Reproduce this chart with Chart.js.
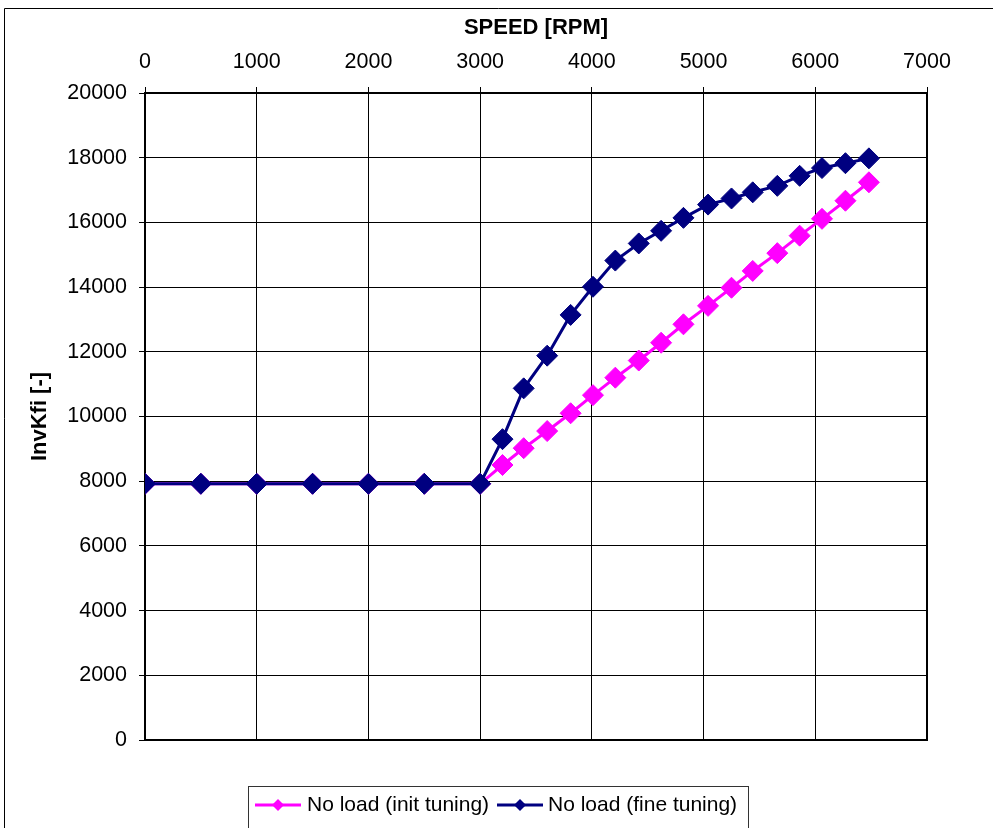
<!DOCTYPE html>
<html>
<head>
<meta charset="utf-8">
<title>InvKfi vs speed</title>
<script src="https://cdn.jsdelivr.net/npm/chart.js@4/dist/chart.umd.min.js"></script>
<style>
  html, body { margin: 0; padding: 0; background: #fff; }
  canvas { display: block; }
</style>
</head>
<body>
<canvas id="myChart" width="993" height="828"></canvas>
<script>
'use strict';

// Datos
const speed = [0, 500, 1000, 1500, 2000, 2500, 3000, 3200, 3390, 3600, 3810, 4010, 4210, 4420, 4620, 4820, 5040, 5250, 5440, 5660, 5860, 6060, 6270, 6480];
const initTuning = [7920, 7920, 7920, 7920, 7920, 7920, 7920, 8500, 9020, 9550, 10100, 10660, 11200, 11730, 12280, 12850, 13420, 13980, 14500, 15050, 15590, 16110, 16670, 17240];
const fineTuning = [7920, 7920, 7920, 7920, 7920, 7920, 7920, 9300, 10870, 11880, 13140, 14010, 14820, 15350, 15740, 16140, 16550, 16740, 16930, 17130, 17440, 17680, 17830, 17980];
const seriesNames = ['No load (init tuning)', 'No load (fine tuning)'];
const seriesColors = ['#ff00ff', '#000080'];
const xTicks = [0, 7000, 1000];
const yTicks = [0, 20000, 2000];

const FONT = '"Liberation Sans", Arial, sans-serif';
const canvas = document.getElementById('myChart');

const toPoints = (xs, ys) => xs.map((x, i) => ({ x: x, y: ys[i] }));

// Marco exterior, borde del área y leyenda
const framePlugin = {
  id: 'frame',
  beforeDatasetsDraw(chart) {
    const { ctx, chartArea } = chart;
    ctx.save();
    ctx.strokeStyle = '#000';
    ctx.lineWidth = 1;
    ctx.beginPath();
    ctx.moveTo(4.5, 828);
    ctx.lineTo(4.5, 8.5);
    ctx.lineTo(993, 8.5);
    ctx.stroke();
    ctx.lineWidth = 2;
    ctx.strokeRect(chartArea.left, chartArea.top, chartArea.right - chartArea.left, chartArea.bottom - chartArea.top);
    ctx.restore();
  },
  afterDraw(chart) {
    const ctx = chart.ctx;
    ctx.save();
    ctx.strokeStyle = '#333';
    ctx.lineWidth = 1;
    ctx.strokeRect(248.5, 786.5, 500, 60);

    const items = [
      { x0: 255, x1: 301, tx: 307 },
      { x0: 497, x1: 543, tx: 548 },
    ];
    const y = 805;
    items.forEach((it, i) => {
      ctx.strokeStyle = seriesColors[i];
      ctx.fillStyle = seriesColors[i];
      ctx.lineWidth = 3;
      ctx.beginPath();
      ctx.moveTo(it.x0, y);
      ctx.lineTo(it.x1, y);
      ctx.stroke();
      const cx = (it.x0 + it.x1) / 2;
      ctx.beginPath();
      ctx.moveTo(cx, y - 6);
      ctx.lineTo(cx + 6, y);
      ctx.lineTo(cx, y + 6);
      ctx.lineTo(cx - 6, y);
      ctx.closePath();
      ctx.fill();
      ctx.fillStyle = '#000';
      ctx.font = '21px ' + FONT;
      ctx.textBaseline = 'middle';
      ctx.fillText(seriesNames[i], it.tx, y);
    });
    ctx.restore();
  },
};

const axisCommon = {
  type: 'linear',
  grid: {
    color: '#000',
    lineWidth: 1,
    tickLength: 6,
    tickColor: '#000',
  },
  border: { display: false },
};

const tickOpts = (step) => ({
  stepSize: step,
  color: '#000',
  padding: 12,
  font: { family: FONT, size: 21.5 },
  callback: (v) => String(v),
});

const myChart = new Chart(canvas, {
  type: 'line',
  data: {
    datasets: [
      {
        label: seriesNames[1],
        data: toPoints(speed, fineTuning),
        borderColor: seriesColors[1],
        backgroundColor: seriesColors[1],
        borderWidth: 3,
        pointStyle: 'rectRot',
        pointRadius: 10.5,
        pointBorderWidth: 1,
      },
      {
        label: seriesNames[0],
        data: toPoints(speed, initTuning),
        borderColor: seriesColors[0],
        backgroundColor: seriesColors[0],
        borderWidth: 3,
        pointStyle: 'rectRot',
        pointRadius: 10.5,
        pointBorderWidth: 1,
      },
    ],
  },
  options: {
    responsive: false,
    animation: false,
    layout: { padding: { left: 0, top: 0, right: 66, bottom: 88 } },
    plugins: {
      legend: { display: false },
      tooltip: { enabled: false },
    },
    scales: {
      x: {
        ...axisCommon,
        position: 'top',
        min: xTicks[0],
        max: xTicks[1],
        ticks: tickOpts(xTicks[2]),
        title: {
          display: true,
          text: 'SPEED [RPM]',
          color: '#000',
          font: { family: FONT, size: 22, weight: 'bold' },
          padding: { top: 15, bottom: 0 },
        },
        afterFit: (s) => { s.height = 93; },
      },
      y: {
        ...axisCommon,
        position: 'left',
        min: yTicks[0],
        max: yTicks[1],
        ticks: tickOpts(yTicks[2]),
        title: {
          display: true,
          text: 'InvKfi [-]',
          color: '#000',
          font: { family: FONT, size: 22, weight: 'bold' },
          padding: { top: 27, bottom: 0 },
        },
        afterFit: (s) => { s.width = 145; },
      },
    },
  },
  plugins: [framePlugin],
});
</script>
</body>
</html>
